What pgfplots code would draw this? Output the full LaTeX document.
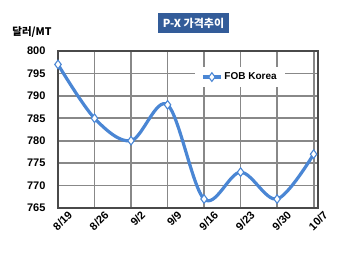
\documentclass[border=0pt]{standalone}
\usepackage{fontspec}
\setmainfont{Liberation Sans}
\newfontfamily\kr{Noto Sans CJK KR}
\usepackage{pgfplots}
\pgfplotsset{compat=1.18}
\definecolor{lineblue}{HTML}{4A86D4}
\definecolor{titlebox}{HTML}{335C99}
\definecolor{gridgray}{HTML}{888888}
\definecolor{framegray}{HTML}{4A4A4A}
\begin{document}
\begin{tikzpicture}
\useasboundingbox (0,0) rectangle (350pt,258pt);
\begin{axis}[
  at={(58pt,50pt)}, anchor=south west,
  scale only axis, width=260pt, height=157pt,
  xmin=0, xmax=7.12, ymin=765, ymax=800,
  xtick={0,1,2,3,4,5,6,7},
  xticklabels={8/19,8/26,9/2,9/9,9/16,9/23,9/30,10/7},
  ytick={765,770,775,780,785,790,795,800},
  /pgf/number format/assume math mode=true,
  tick label style={font=\bfseries\fontsize{11}{12}\selectfont},
  x tick label style={rotate=45, anchor=north east, inner sep=0pt, yshift=-8pt, xshift=5pt},
  y tick label style={xshift=-9pt},
  tick style={draw=none},
  grid=major,
  major grid style={draw=gridgray, line width=1.8pt},
  axis line style={draw=framegray, line width=1.8pt},
  legend style={at={(0.70,0.834)}, anchor=center, draw=none, fill=white,
    font=\bfseries\fontsize{10}{12}\selectfont, inner xsep=6pt, inner ysep=4pt},
  legend cell align=left,
  legend image code/.code={
    \draw[#1, mark=none] (0pt,0pt) -- (18pt,0pt);
    \draw[#1, mark repeat=1] plot coordinates {(9pt,0pt)};
  },
  clip=false,
]
\addplot[lineblue, line width=3.2pt, smooth, tension=0.55,
  mark=diamond*, mark size=4.3pt,
  mark options={fill=white, draw=lineblue, line width=1.1pt}]
  coordinates {(0,797) (1,785) (2,780) (3,788) (4,767) (5,773) (6,767) (7,777)};
\addlegendentry{FOB Korea}
\end{axis}
\node[fill=titlebox, text=white, font=\kr\bfseries\fontsize{11}{13}\selectfont,
  minimum width=71pt, minimum height=20pt, inner sep=0pt] at (193.5pt,235pt) {P-X 가격추이};
\node[font=\kr\bfseries\fontsize{10.5}{12}\selectfont] at (32pt,226pt) {달러/MT};
\end{tikzpicture}
\end{document}
